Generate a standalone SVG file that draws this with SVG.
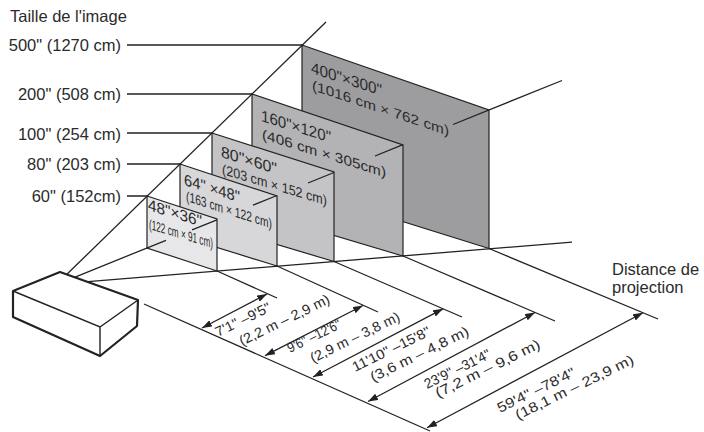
<svg xmlns="http://www.w3.org/2000/svg" width="704" height="432" viewBox="0 0 704 432">
<style>
text{font-family:"Liberation Sans",Arial,Helvetica,sans-serif;fill:#2b2b2b}
.lbl{font-size:16.5px}
.s1{font-size:16px}
.s2{font-size:14px}
.dm{font-size:14px}
.ln{stroke:#222;stroke-width:1.3;fill:none}
.scr{stroke:#222;stroke-width:1.2;stroke-linejoin:miter}
.arr{stroke:#222;stroke-width:1.3;fill:none;marker-start:url(#ah);marker-end:url(#ah)}
.box{fill:#fff;stroke:#222;stroke-width:2.2;stroke-linejoin:round}
.edge{fill:none;stroke:#222;stroke-width:1.4}
</style>
<defs>
<marker id="ah" viewBox="0 0 10 7" refX="10" refY="3.5" markerWidth="10" markerHeight="7" markerUnits="userSpaceOnUse" orient="auto-start-reverse">
<path d="M0,0 L10,3.5 L0,7 z" fill="#222"/>
</marker>
</defs>
<rect width="704" height="432" fill="#fff"/>

<g id="title">
<text class="lbl" x="10" y="22">Taille de l'image</text>
<text class="lbl" x="612" y="275">Distance de</text>
<text class="lbl" x="612" y="293">projection</text>
</g>

<g id="size-labels">
<text class="lbl" x="121" y="51" text-anchor="end">500" (1270 cm)</text>
<text class="lbl" x="121" y="100" text-anchor="end">200" (508 cm)</text>
<text class="lbl" x="121" y="140" text-anchor="end">100" (254 cm)</text>
<text class="lbl" x="121" y="170" text-anchor="end">80" (203 cm)</text>
<text class="lbl" x="121" y="202" text-anchor="end">60" (152cm)</text>
</g>

<g id="screen-400">
<polygon class="scr" points="302,45 489,110 489,248.5 302,190" fill="#9d9da0"/>
<text class="s1" transform="matrix(1 0.32 0 1 311 73)" textLength="71" lengthAdjust="spacingAndGlyphs">400"×300"</text>
<text class="s2" transform="matrix(1 0.335 0 1 312 90)" textLength="137" lengthAdjust="spacingAndGlyphs">(1016 cm × 762 cm)</text>
</g>
<g id="screen-160">
<polygon class="scr" points="252,94 403,145 403,256 252,211" fill="#b3b3b6"/>
<text class="s1" transform="matrix(1 0.31 0 1 261 121)" textLength="70" lengthAdjust="spacingAndGlyphs">160"×120"</text>
<text class="s2" transform="matrix(1 0.31 0 1 262 139)" textLength="124" lengthAdjust="spacingAndGlyphs">(406 cm × 305cm)</text>
</g>
<g id="screen-80">
<polygon class="scr" points="212,133 334,172 334,261.5 212,225" fill="#c4c4c7"/>
<text class="s1" transform="matrix(1 0.31 0 1 221 157)" textLength="56" lengthAdjust="spacingAndGlyphs">80"×60"</text>
<text class="s2" transform="matrix(1 0.30 0 1 222 174)" textLength="105" lengthAdjust="spacingAndGlyphs">(203 cm × 152 cm)</text>
</g>
<g id="screen-64">
<polygon class="scr" points="180,164 277,196 277,266 180,236" fill="#d7d7d9"/>
<text class="s1" transform="matrix(1 0.31 0 1 184 185)" textLength="56" lengthAdjust="spacingAndGlyphs">64" ×48"</text>
<text class="s2" transform="matrix(1 0.32 0 1 186 201)" textLength="86" lengthAdjust="spacingAndGlyphs">(163 cm × 122 cm)</text>
</g>
<g id="screen-48">
<polygon class="scr" points="147,196 217,219 217,271 147,248" fill="#e7e7e9"/>
<text class="s1" transform="matrix(1 0.31 0 1 148 210)" textLength="54" lengthAdjust="spacingAndGlyphs">48"×36"</text>
<text class="s2" transform="matrix(1 0.30 0 1 149 229)" textLength="64" lengthAdjust="spacingAndGlyphs">(122 cm × 91 cm)</text>
</g>

<g id="connectors">
<path class="ln" d="M127,45 H302 M127,94 H252 M127,133 H212 M127,164 H180 M127,196 H147"/>
<path class="ln" d="M62,279 L326,22"/>
<path class="ln" d="M72,278.3 L166,240.3 M192,229.8 L217,219.8 M253,205.2 L277,195.5 M308,183 L334,172.5 M375,156 L403,144.7 M453,124.5 L562,80.5"/>
<path class="ln" d="M88,281.6 L572,242.1"/>
<path class="ln" d="M217,271 L277,298 M277,266 L378,312 M334,261.5 L462,317 M403,256 L555,321 M489,248.5 L658,319"/>
<path class="ln" d="M144,304 L430,431"/>
<path class="arr" d="M202,328 L267,294"/>
<path class="arr" d="M265,355.7 L363,305.5"/>
<path class="arr" d="M313,377 L443,308.8"/>
<path class="arr" d="M368,401.5 L535,312.5"/>
<path class="arr" d="M427,427.7 L643,312.7"/>
</g>

<g id="distances">
<text class="dm" transform="translate(218,337) rotate(-26)" textLength="60" lengthAdjust="spacingAndGlyphs">7'1" –9'5"</text>
<text class="dm" transform="translate(242,346) rotate(-26)" textLength="99" lengthAdjust="spacingAndGlyphs">(2,2 m – 2,9 m)</text>
<text class="dm" transform="translate(290,353) rotate(-26)" textLength="58" lengthAdjust="spacingAndGlyphs">9'6" –12'6"</text>
<text class="dm" transform="translate(313,363) rotate(-26)" textLength="98" lengthAdjust="spacingAndGlyphs">(2,9 m – 3,8 m)</text>
<text class="dm" transform="translate(355,372) rotate(-26)" textLength="85" lengthAdjust="spacingAndGlyphs">11'10" –15'8"</text>
<text class="dm" transform="translate(373,382) rotate(-26)" textLength="108" lengthAdjust="spacingAndGlyphs">(3,6 m – 4,8 m)</text>
<text class="dm" transform="translate(427,389) rotate(-26)" textLength="72" lengthAdjust="spacingAndGlyphs">23'9" –31'4"</text>
<text class="dm" transform="translate(438,398) rotate(-26)" textLength="115" lengthAdjust="spacingAndGlyphs">(7,2 m – 9,6 m)</text>
<text class="dm" transform="translate(500,413) rotate(-26)" textLength="85" lengthAdjust="spacingAndGlyphs">59'4" –78'4"</text>
<text class="dm" transform="translate(518,420) rotate(-26)" textLength="130" lengthAdjust="spacingAndGlyphs">(18,1 m – 23,9 m)</text>
</g>

<g id="projector">
<polygon class="box" points="60,272 13,291 13,317 100,356 137,326 138,300"/>
<path class="edge" d="M13,291 L100,327 L138,300 M100,327 L100,356"/>
</g>
</svg>
